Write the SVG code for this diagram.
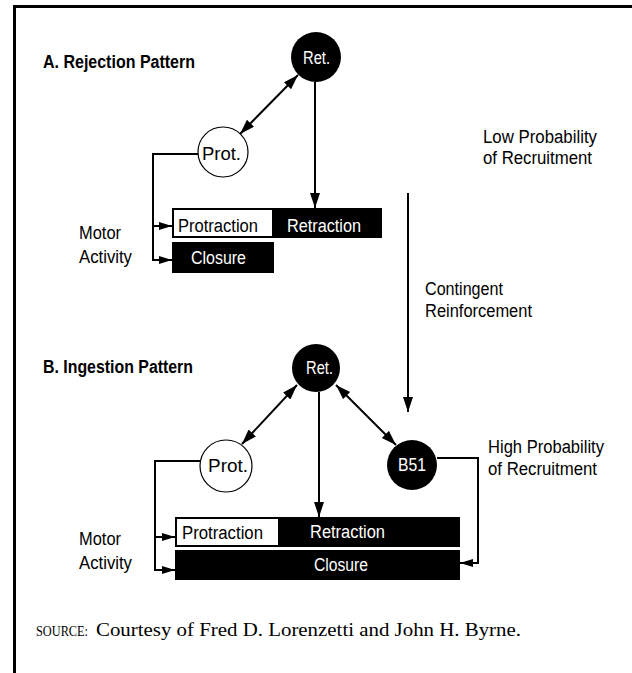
<svg xmlns="http://www.w3.org/2000/svg" width="632" height="673" viewBox="0 0 632 673">
  <defs>
    <marker id="head" markerUnits="userSpaceOnUse" markerWidth="16" markerHeight="12" refX="15" refY="5" orient="auto-start-reverse">
      <path d="M0,0 L15,5 L0,10 Z" fill="#000"/>
    </marker>
    <marker id="tick" markerUnits="userSpaceOnUse" markerWidth="14" markerHeight="10" refX="13" refY="4" orient="auto">
      <path d="M0,0 L13,4 L0,8 Z" fill="#000"/>
    </marker>
    <style>
      .lbl { font-family: "Liberation Sans Narrow", "Liberation Sans", Arial, sans-serif; font-size: 18px; fill: #000; }
      .ttl { font-family: "Liberation Sans Narrow", "Liberation Sans", Arial, sans-serif; font-size: 18px; font-weight: bold; fill: #000; }
      .inv { fill: #fff; }
      .src { font-family: "Liberation Serif", "Times New Roman", serif; fill: #000; }
      .wire { fill: none; stroke: #000; stroke-width: 2; }
      .frame { fill: none; stroke: #000; stroke-width: 3; }
      .cell { fill: #000; }
      .open { fill: #fff; stroke: #000; stroke-width: 1.2; }
    </style>
  </defs>

  <rect width="632" height="673" fill="#fff"/>

  <!-- page frame (top and left rules) -->
  <path class="frame" d="M13,6.5 H632 M14.5,5 V673"/>

  <!-- section titles -->
  <text class="ttl" x="43" y="68" textLength="152" lengthAdjust="spacingAndGlyphs">A. Rejection Pattern</text>
  <text class="ttl" x="43" y="373" textLength="150" lengthAdjust="spacingAndGlyphs">B. Ingestion Pattern</text>

  <!-- side labels -->
  <text class="lbl" x="79" y="239" textLength="42" lengthAdjust="spacingAndGlyphs">Motor</text>
  <text class="lbl" x="79" y="263" textLength="53" lengthAdjust="spacingAndGlyphs">Activity</text>
  <text class="lbl" x="79" y="545" textLength="42" lengthAdjust="spacingAndGlyphs">Motor</text>
  <text class="lbl" x="79" y="569" textLength="53" lengthAdjust="spacingAndGlyphs">Activity</text>

  <text class="lbl" x="483" y="143" textLength="114" lengthAdjust="spacingAndGlyphs">Low Probability</text>
  <text class="lbl" x="483" y="164" textLength="109" lengthAdjust="spacingAndGlyphs">of Recruitment</text>
  <text class="lbl" x="425" y="295" textLength="78" lengthAdjust="spacingAndGlyphs">Contingent</text>
  <text class="lbl" x="425" y="317" textLength="107" lengthAdjust="spacingAndGlyphs">Reinforcement</text>
  <text class="lbl" x="488" y="453" textLength="116" lengthAdjust="spacingAndGlyphs">High Probability</text>
  <text class="lbl" x="488" y="475" textLength="109" lengthAdjust="spacingAndGlyphs">of Recruitment</text>

  <!-- connectors -->
  <g id="connectors">
    <!-- A: Prot. <-> Ret. -->
    <line class="wire" x1="240" y1="134" x2="298" y2="75" marker-start="url(#head)" marker-end="url(#head)"/>
    <!-- A: Ret. -> Retraction -->
    <line class="wire" x1="315" y1="82" x2="315" y2="208" marker-end="url(#head)"/>
    <!-- A: Prot. -> Protraction / Closure -->
    <path class="wire" d="M198,154 H153 V260 H172" marker-end="url(#tick)"/>
    <path class="wire" d="M153,226 H172" marker-end="url(#tick)"/>

    <!-- contingent reinforcement -->
    <line class="wire" x1="408" y1="193" x2="408" y2="412" marker-end="url(#head)"/>

    <!-- B: Prot. <-> Ret. -->
    <line class="wire" x1="242" y1="444" x2="297" y2="385" marker-start="url(#head)" marker-end="url(#head)"/>
    <!-- B: Ret. <-> B51 -->
    <line class="wire" x1="336" y1="385" x2="396" y2="445" marker-start="url(#head)" marker-end="url(#head)"/>
    <!-- B: Ret. -> Retraction -->
    <line class="wire" x1="319" y1="392" x2="319" y2="517" marker-end="url(#head)"/>
    <!-- B: Prot. -> Protraction / Closure -->
    <path class="wire" d="M200,461 H155 V570 H175" marker-end="url(#tick)"/>
    <path class="wire" d="M155,537 H175" marker-end="url(#tick)"/>
    <!-- B: B51 -> Closure -->
    <path class="wire" d="M437,458 H478 V563 H460" marker-end="url(#tick)"/>
  </g>

  <!-- section A nodes -->
  <g id="retA">
    <circle cx="316" cy="57" r="25" fill="#000"/>
    <text class="lbl inv" x="303" y="64" textLength="27" lengthAdjust="spacingAndGlyphs">Ret.</text>
  </g>
  <g id="protA">
    <circle class="open" cx="223" cy="152" r="25"/>
    <text class="lbl" x="202" y="160" textLength="39" lengthAdjust="spacingAndGlyphs">Prot.</text>
  </g>
  <g id="motorA">
    <rect class="cell" x="172" y="208" width="210" height="30"/>
    <rect x="174" y="210" width="98" height="26" fill="#fff"/>
    <text class="lbl" x="178" y="232" textLength="80" lengthAdjust="spacingAndGlyphs">Protraction</text>
    <text class="lbl inv" x="287" y="232" textLength="74" lengthAdjust="spacingAndGlyphs">Retraction</text>
  </g>
  <g id="closureA">
    <rect class="cell" x="172" y="242" width="102" height="31"/>
    <text class="lbl inv" x="191" y="264" textLength="55" lengthAdjust="spacingAndGlyphs">Closure</text>
  </g>

  <!-- section B nodes -->
  <g id="retB">
    <circle cx="316" cy="368" r="24" fill="#000"/>
    <text class="lbl inv" x="306" y="374" textLength="27" lengthAdjust="spacingAndGlyphs">Ret.</text>
  </g>
  <g id="protB">
    <circle class="open" cx="226" cy="466" r="26"/>
    <text class="lbl" x="208" y="472" textLength="40" lengthAdjust="spacingAndGlyphs">Prot.</text>
  </g>
  <g id="b51">
    <circle cx="412" cy="465" r="25" fill="#000"/>
    <text class="lbl inv" x="398" y="471" textLength="28" lengthAdjust="spacingAndGlyphs">B51</text>
  </g>
  <g id="motorB">
    <rect class="cell" x="175" y="517" width="285" height="30"/>
    <rect x="177" y="519" width="101" height="26" fill="#fff"/>
    <text class="lbl" x="182" y="539" textLength="81" lengthAdjust="spacingAndGlyphs">Protraction</text>
    <text class="lbl inv" x="310" y="538" textLength="75" lengthAdjust="spacingAndGlyphs">Retraction</text>
  </g>
  <g id="closureB">
    <rect class="cell" x="175" y="550" width="285" height="30"/>
    <text class="lbl inv" x="314" y="571" textLength="54" lengthAdjust="spacingAndGlyphs">Closure</text>
  </g>

  <!-- credit line -->
  <text class="src" x="36" y="636" font-size="14" textLength="52" lengthAdjust="spacingAndGlyphs">SOURCE:</text>
  <text class="src" x="96" y="636" font-size="19" textLength="425" lengthAdjust="spacingAndGlyphs">Courtesy of Fred D. Lorenzetti and John H. Byrne.</text>
</svg>
